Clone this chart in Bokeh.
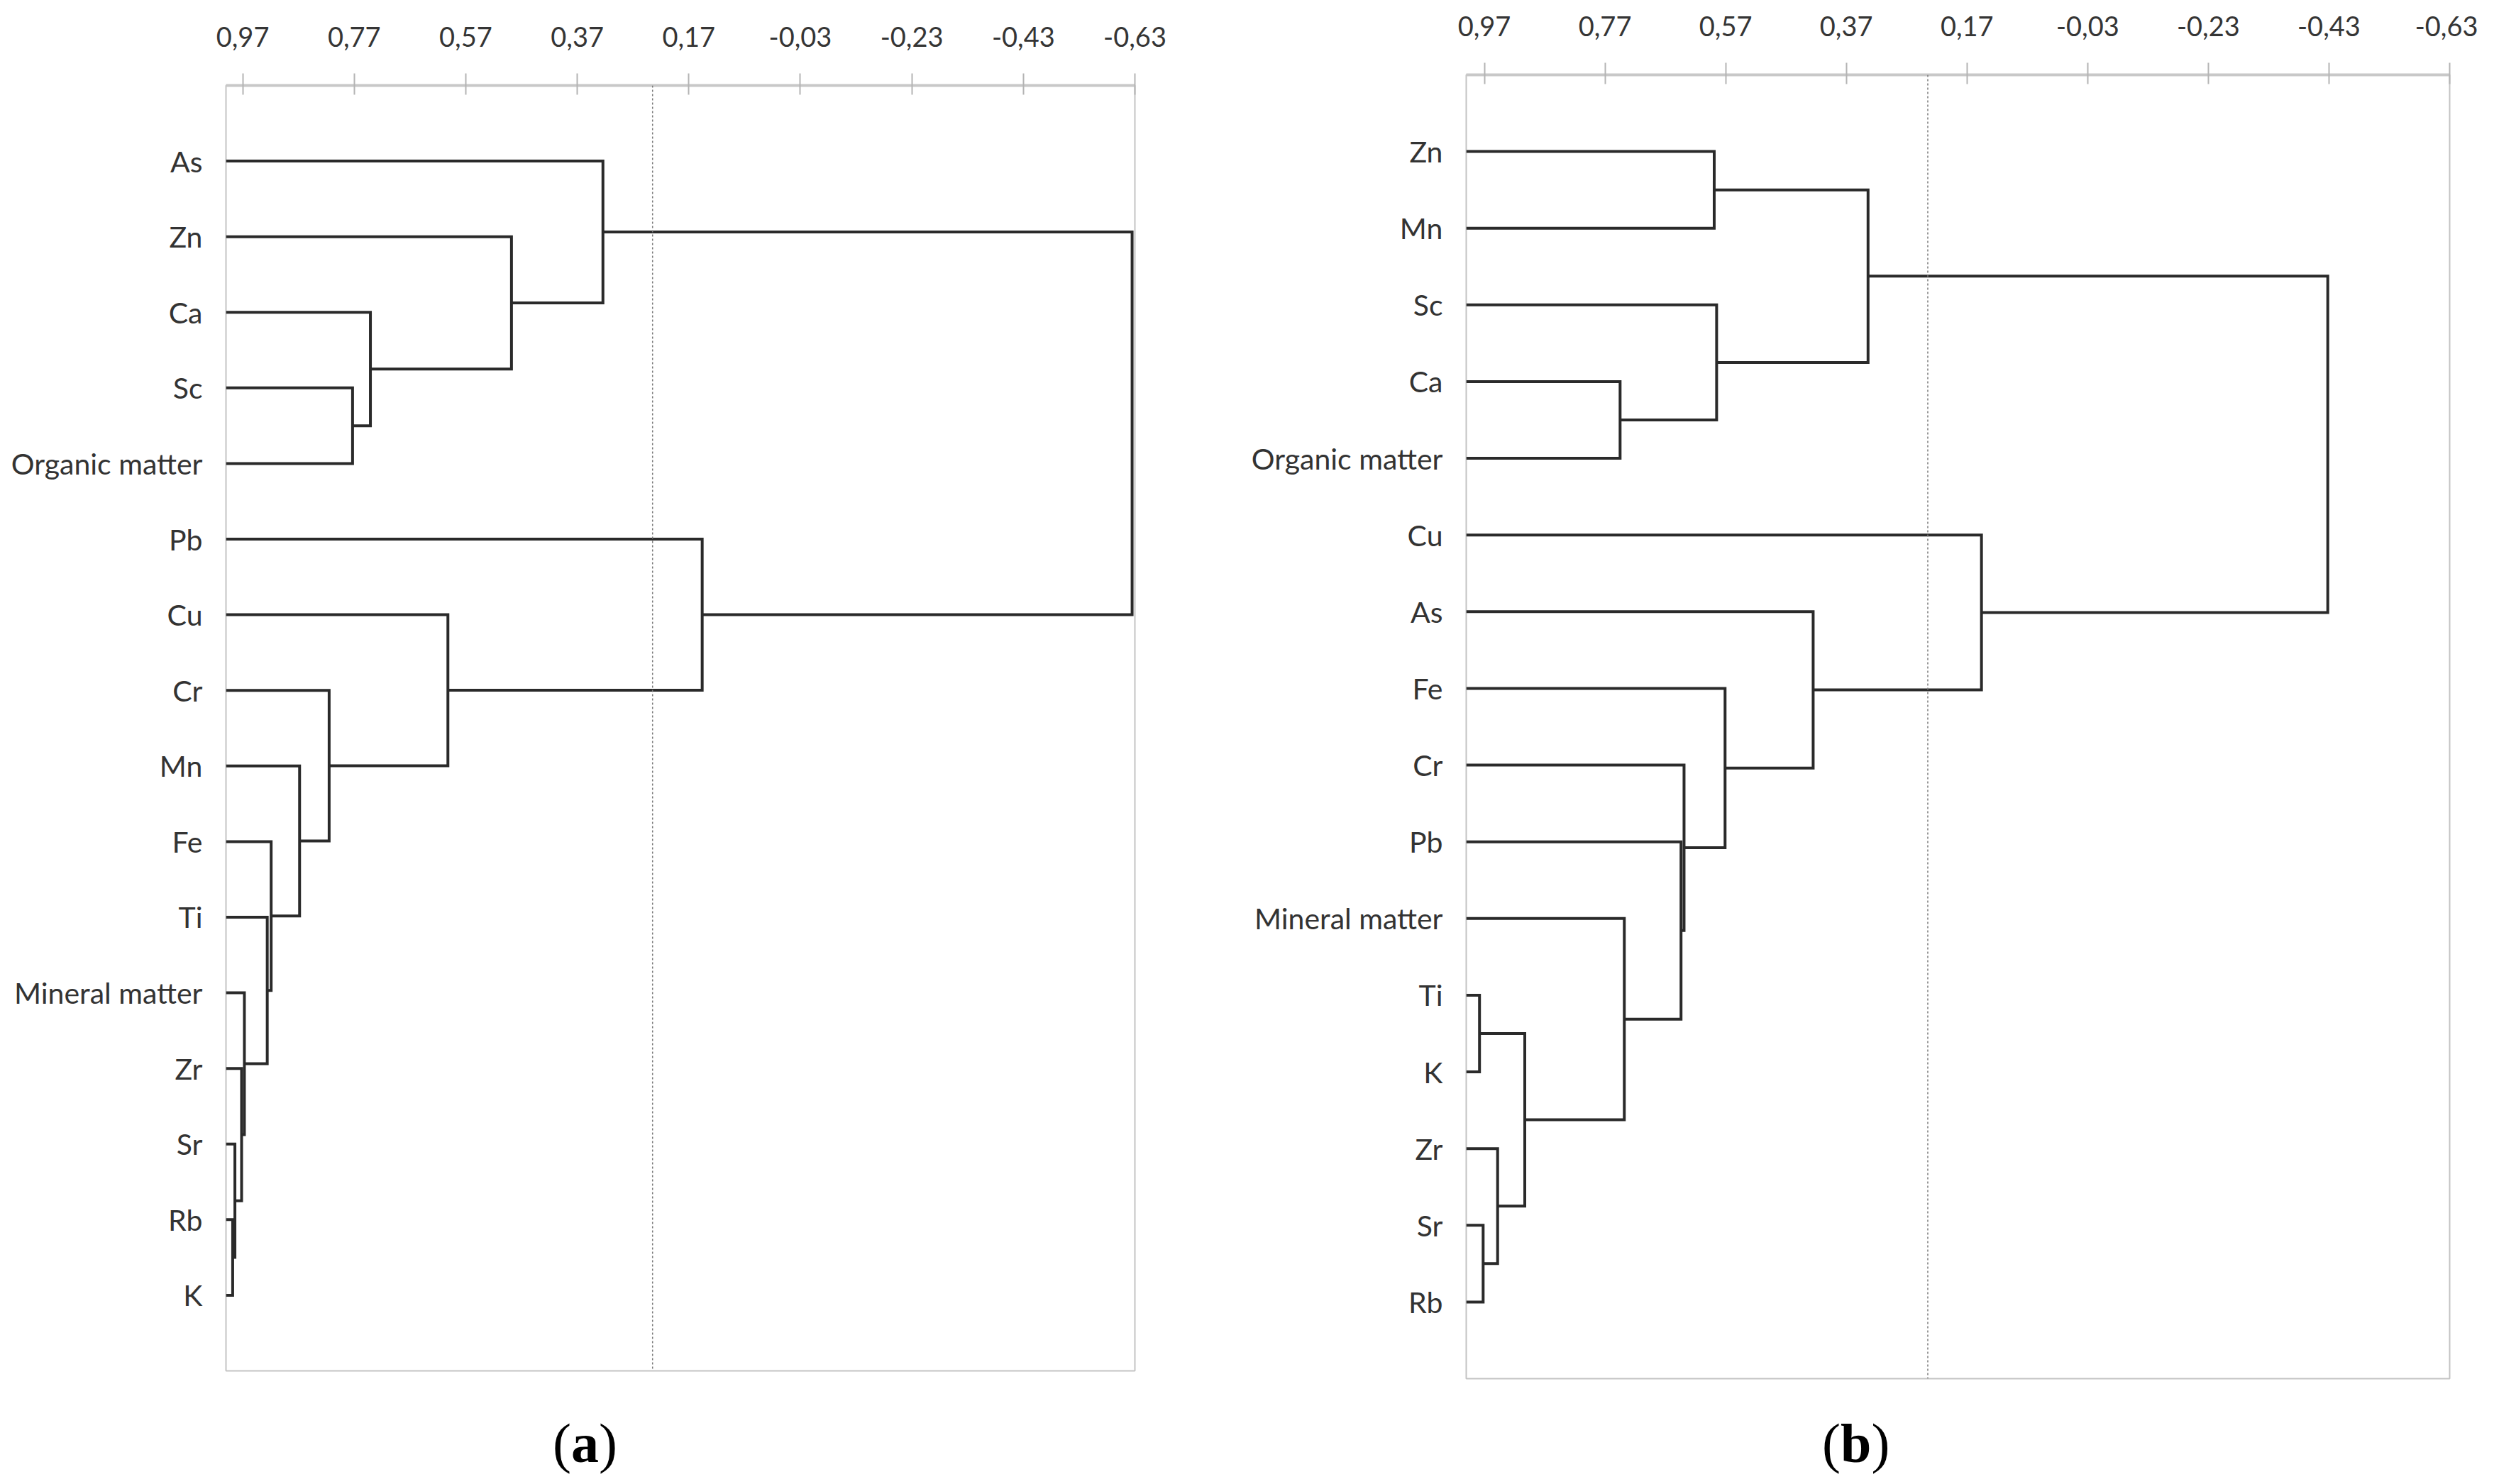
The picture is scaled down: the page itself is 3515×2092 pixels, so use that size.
from bokeh.plotting import figure
from bokeh.models import Range1d, FixedTicker, CustomJSTickFormatter, Span, Div, Spacer
from bokeh.layouts import row, column
from bokeh.embed import file_html
from bokeh.resources import INLINE

# ---------------- data ----------------
tick_values = [0.97, 0.77, 0.57, 0.37, 0.17, -0.03, -0.23, -0.43, -0.63]
cut_level = 0.235
self_similarity = 1.0
x_end = -0.63

# panel (a)
leaves_a = ["As", "Zn", "Ca", "Sc", "Organic matter", "Pb", "Cu", "Cr", "Mn",
            "Fe", "Ti", "Mineral matter", "Zr", "Sr", "Rb", "K"]
merge_left_a = ["Rb", "Sr", "Zr", "Mineral matter", "Ti", "Fe", "Mn", "Cr",
                "Cu", "Pb", "Sc", "Ca", "Zn", "As", "m14"]
merge_right_a = ["K", "m1", "m2", "m3", "m4", "m5", "m6", "m7",
                 "m8", "m9", "Organic matter", "m11", "m12", "m13", "m10"]
merge_height_a = [0.988, 0.984, 0.972, 0.967, 0.926, 0.919, 0.868, 0.815,
                  0.602, 0.146, 0.773, 0.741, 0.488, 0.324, -0.625]

# panel (b)
leaves_b = ["Zn", "Mn", "Sc", "Ca", "Organic matter", "Cu", "As", "Fe", "Cr",
            "Pb", "Mineral matter", "Ti", "K", "Zr", "Sr", "Rb"]
merge_left_b = ["Zn", "Ca", "Sc", "m1", "Sr", "Zr", "Ti", "m7",
                "Mineral matter", "Pb", "Cr", "Fe", "As", "Cu", "m4"]
merge_right_b = ["Mn", "Organic matter", "m2", "m3", "Rb", "m5", "K", "m6",
                 "m8", "m9", "m10", "m11", "m12", "m13", "m14"]
merge_height_b = [0.589, 0.745, 0.585, 0.334, 0.972, 0.948, 0.978, 0.903,
                  0.738, 0.644, 0.639, 0.571, 0.425, 0.146, -0.428]

panel_tags = ["a", "b"]


def dendro_paths(leaves, left, right, heights):
    pos = {name: (self_similarity, i + 1) for i, name in enumerate(leaves)}
    xs, ys = [], []
    for k, (a, b, h) in enumerate(zip(left, right, heights), start=1):
        xa, ya = pos[a]
        xb, yb = pos[b]
        xs.append([xa, h, h, xb])
        ys.append([ya, ya, yb, yb])
        pos["m%d" % k] = (h, (ya + yb) / 2.0)
    return xs, ys


def make_panel(leaves, left, right, heights, width, height, bl, br, bt, bb):
    n = len(leaves)
    p = figure(width=width, height=height,
               x_range=Range1d(self_similarity, x_end),
               y_range=Range1d(n + 1, 0),
               x_axis_location="above",
               toolbar_location=None, output_backend="svg",
               min_border_left=bl, min_border_right=br,
               min_border_top=bt, min_border_bottom=bb)
    p.frame_align = False
    p.background_fill_color = "white"
    p.border_fill_color = "white"
    p.outline_line_color = "#c4c4c4"
    p.outline_line_width = 2
    p.xgrid.visible = False
    p.ygrid.visible = False

    xa = p.xaxis[0]
    xa.ticker = FixedTicker(ticks=tick_values)
    xa.formatter = CustomJSTickFormatter(
        code="return tick.toFixed(2).replace('.', ',');")
    xa.axis_line_color = "#c8c8c8"
    xa.axis_line_width = 4
    xa.major_tick_line_color = "#b4b4b4"
    xa.major_tick_line_width = 2
    xa.major_tick_in = 13
    xa.major_tick_out = 17
    xa.minor_tick_line_color = None
    xa.major_label_standoff = 38
    xa.major_label_text_font = "Lato"
    xa.major_label_text_font_size = "38px"
    xa.major_label_text_color = "#353535"

    ya = p.yaxis[0]
    ya.ticker = FixedTicker(ticks=list(range(1, n + 1)))
    ya.formatter = CustomJSTickFormatter(
        args=dict(names=leaves), code="return names[Math.round(tick) - 1];")
    ya.axis_line_color = None
    ya.major_tick_line_color = None
    ya.minor_tick_line_color = None
    ya.major_label_standoff = 27
    ya.major_label_text_font = "Lato"
    ya.major_label_text_font_size = "41px"
    ya.major_label_text_color = "#333333"

    xs, ys = dendro_paths(leaves, left, right, heights)
    p.multi_line(xs=xs, ys=ys, line_color="#2a2a2a", line_width=4,
                 line_join="miter")

    p.add_layout(Span(location=cut_level, dimension="height",
                      line_color="#7a7a7a", line_dash="3 3", line_width=1.5))
    return p


def tag_div(tag):
    return Div(text="(<b>%s</b>)" % tag, width=90, height=90,
               styles={"font-family": "Liberation Serif", "font-size": "78px",
                       "line-height": "1", "text-align": "center",
                       "color": "black"})


pa = make_panel(leaves_a, merge_left_a, merge_right_a, merge_height_a,
                width=1708, height=1991, bl=318, br=109, bt=120, bb=59)
pb = make_panel(leaves_b, merge_left_b, merge_right_b, merge_height_b,
                width=1784, height=2005, bl=358, br=40, bt=119, bb=48)
# panel (b) sits slightly higher on the page than panel (a)
pb.styles = {"margin-top": "-14px"}

labels_row = row(Spacer(width=774, height=90), tag_div(panel_tags[0]),
                 Spacer(width=1689, height=90), tag_div(panel_tags[1]))
layout = column(row(pa, pb), labels_row)
open("out.html", "w").write(file_html(layout, INLINE))
